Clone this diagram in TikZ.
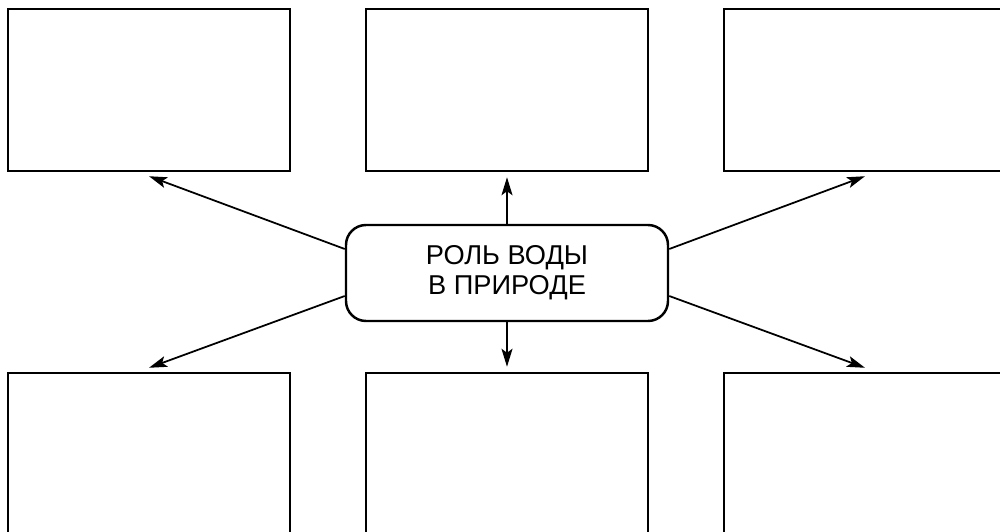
\documentclass[tikz,border=0pt]{standalone}
\usepackage{fontspec}
\setmainfont{Liberation Sans}
\usetikzlibrary{arrows.meta, positioning, math}

\tikzset{
  cell/.style={draw, line width=1.4pt, minimum width=56.4mm, minimum height=32.4mm, inner sep=0pt},
  hub/.style={draw, line width=1.4pt, rounded corners=4mm, minimum width=64.4mm, minimum height=19.2mm,
    align=center, font=\fontsize{15.5}{17}\selectfont},
  ray/.style={line width=1pt, -{Stealth[length=3.6mm,width=2.2mm,inset=0.8mm]}}
}

\begin{document}
\begin{tikzpicture}[x=0.2mm, y=-0.2mm]
\tikzmath{
\ty=90;
\by=454;
}
\useasboundingbox (0,0) rectangle (1000,532);
\clip (0,0) rectangle (1000,532);

%boxes
\node[cell] (tl) at (149,\ty) {};
\node[cell] (tm) at (507,\ty) {};
\node[cell] (tr) at (865,\ty) {};
\node[cell] (bl) at (149,\by) {};
\node[cell] (bm) at (507,\by) {};
\node[cell] (br) at (865,\by) {};

%centre
\node[hub] (c) at (507,273) {РОЛЬ ВОДЫ\\В ПРИРОДЕ};

%arrows
\draw[ray] (c.north) -- ([yshift=-1mm]tm.south);
\draw[ray] (c.south) -- ([yshift=1mm]bm.north);
\draw[ray] ([yshift=4.8mm]c.west) -- ([yshift=-0.8mm]tl.south);
\draw[ray] ([yshift=-4.6mm]c.west) -- ([yshift=0.8mm]bl.north);
\draw[ray] ([yshift=4.8mm]c.east) -- ([yshift=-0.8mm]tr.south);
\draw[ray] ([yshift=-4.6mm]c.east) -- ([yshift=0.8mm]br.north);
\end{tikzpicture}
\end{document}
